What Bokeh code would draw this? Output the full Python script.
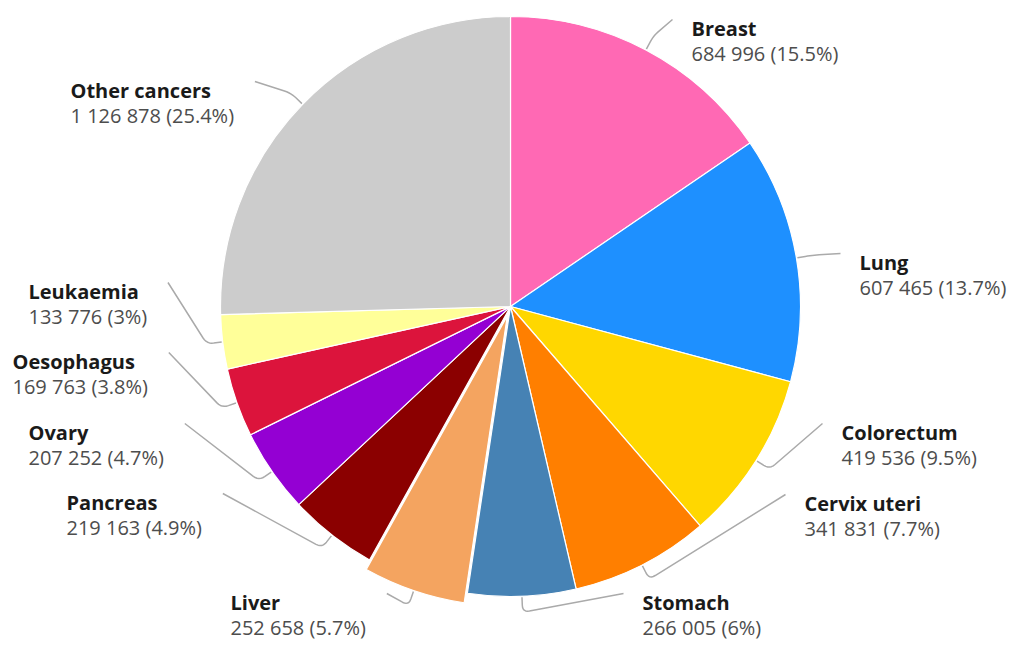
import math
from bokeh.plotting import figure
from bokeh.models import Range1d, ColumnDataSource
from bokeh.core.properties import value
from bokeh.embed import file_html
from bokeh.resources import INLINE

# ---------------- data ----------------
categories = ["Breast", "Lung", "Colorectum", "Cervix uteri", "Stomach", "Liver",
              "Pancreas", "Ovary", "Oesophagus", "Leukaemia", "Other cancers"]
cases = [684996, 607465, 419536, 341831, 266005, 252658,
         219163, 207252, 169763, 133776, 1126878]
colors = ["#FF69B4", "#1E90FF", "#FFD700", "#FF7F00", "#4682B4", "#F4A460",
          "#8B0000", "#9400D3", "#DC143C", "#FFFF99", "#CCCCCC"]
sliced = ["Liver"]

# ---------------- layout ----------------
CX, CY, R = 510, 306, 290          # pie centre / radius (pixels)
SLICE_OFFSET = 10
FONT = "Open Sans"
FS = 20
LINE_GAP = 25
# label block: left x, baseline of the name line, side of the pie
label_layout = {
    "Breast":        (691, 28, "right"),
    "Lung":          (859, 262, "right"),
    "Colorectum":    (841, 432, "right"),
    "Cervix uteri":  (804, 503, "right"),
    "Stomach":       (642, 602, "right"),
    "Liver":         (230, 602, "left"),
    "Pancreas":      (66, 502, "left"),
    "Ovary":         (28, 432, "left"),
    "Oesophagus":    (12, 361, "left"),
    "Leukaemia":     (28, 291, "left"),
    "Other cancers": (70, 90, "left"),
}

W, H = 1010, 642
p = figure(width=W, height=H, output_backend="svg", toolbar_location=None,
           x_axis_type=None, y_axis_type=None, min_border=0,
           x_range=Range1d(0, W), y_range=Range1d(-H, 0))
p.grid.visible = False
p.outline_line_color = None
p.background_fill_color = "white"
p.border_fill_color = "white"

total = sum(cases)
cum = 0.0
wx, wy, starts, ends, fills = [], [], [], [], []
cxs, cys = [], []
names_x, names_y, names_t = [], [], []
vals_x, vals_y, vals_t = [], [], []


def est_width(s, bold=False):
    w = 0.0
    for ch in s:
        if ch.isdigit():
            w += 0.572
        elif ch == " ":
            w += 0.26
        elif ch in "()":
            w += 0.30
        elif ch == ".":
            w += 0.27
        elif ch == "%":
            w += 0.85
        else:
            w += 0.62 if bold else 0.56
    return w * FS


def rounded(p0, p1, p2, rad=7, n=6):
    """polyline p0 -> p1 -> p2 with a rounded corner at p1"""
    def unit(a, b):
        dx, dy = b[0] - a[0], b[1] - a[1]
        d = math.hypot(dx, dy) or 1.0
        return dx / d, dy / d, d
    u1x, u1y, d1 = unit(p1, p0)
    u2x, u2y, d2 = unit(p1, p2)
    r = min(rad, d1 * 0.5, d2 * 0.5)
    a = (p1[0] + u1x * r, p1[1] + u1y * r)
    c = (p1[0] + u2x * r, p1[1] + u2y * r)
    xs, ys = [p0[0]], [p0[1]]
    for i in range(n + 1):
        t = i / n
        x = (1 - t) ** 2 * a[0] + 2 * (1 - t) * t * p1[0] + t ** 2 * c[0]
        y = (1 - t) ** 2 * a[1] + 2 * (1 - t) * t * p1[1] + t ** 2 * c[1]
        xs.append(x); ys.append(y)
    xs.append(p2[0]); ys.append(p2[1])
    return xs, ys


for name, v, col in zip(categories, cases, colors):
    frac = v / total
    a0 = cum * 2 * math.pi           # clockwise from top
    a1 = (cum + frac) * 2 * math.pi
    mid = (a0 + a1) / 2
    cum += frac
    ux, uy = math.sin(mid), math.cos(mid)   # unit vector (y up)
    cx, cy = CX, -CY
    if name in sliced:
        cx += SLICE_OFFSET * ux
        cy += SLICE_OFFSET * uy
    wx.append(cx)
    wy.append(cy)
    starts.append(math.pi / 2 - a1)
    ends.append(math.pi / 2 - a0)
    fills.append(col)

    lx, lb, side = label_layout[name]
    pct = round(frac * 100, 1)
    vt = f"{v:,}".replace(",", " ") + f" ({pct:g}%)"
    names_x.append(lx); names_y.append(-lb); names_t.append(name)
    vals_x.append(lx); vals_y.append(-(lb + LINE_GAP)); vals_t.append(vt)

    # connector
    e = (cx + (R + 1) * ux, cy + (R + 1) * uy)
    b = (cx + (R + 16) * ux, cy + (R + 16) * uy)
    if side == "right":
        endx = lx - 19
    else:
        endx = lx + max(est_width(name, True), est_width(vt)) + 20
    endp = (endx, -(lb - 9))
    xs, ys = rounded(e, b, endp)
    cxs.append(xs)
    cys.append(ys)

p.multi_line(xs=cxs, ys=cys, line_color="#AAAAAA", line_width=1.5)

src = ColumnDataSource(dict(x=wx, y=wy, s=starts, e=ends, c=fills))
p.wedge(x="x", y="y", radius=R, radius_units="screen", start_angle="s", end_angle="e",
        fill_color="c", line_color="white", line_width=1.2, source=src)

p.text(x=names_x, y=names_y, text=names_t, text_font=value(FONT),
       text_font_size=f"{FS}px", text_font_style="bold", text_color="#1A1A1A",
       text_baseline="alphabetic", text_align="left")
p.text(x=vals_x, y=vals_y, text=vals_t, text_font=value(FONT),
       text_font_size=f"{FS}px", text_color="#4D4D4D",
       text_baseline="alphabetic", text_align="left")

open("out.html", "w").write(file_html(p, INLINE))
